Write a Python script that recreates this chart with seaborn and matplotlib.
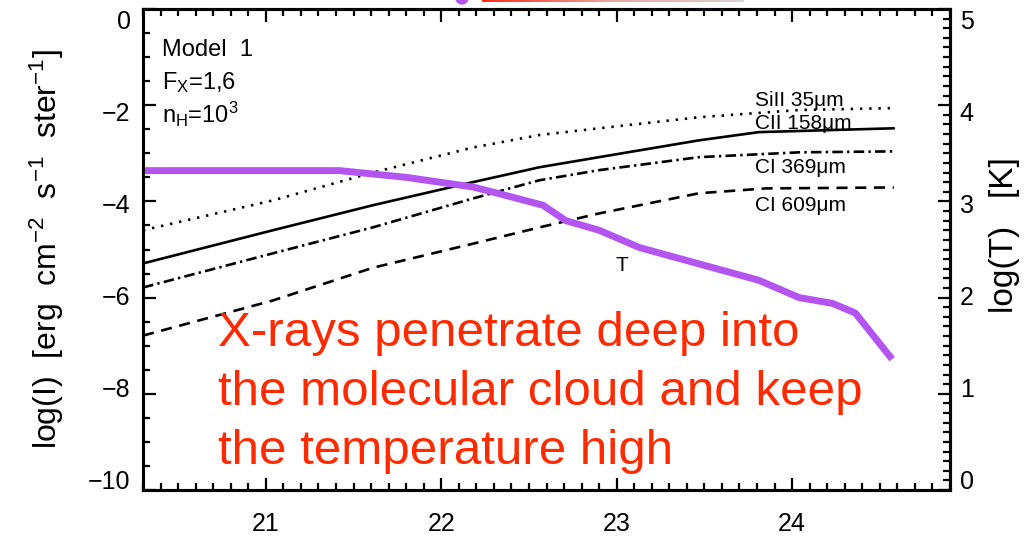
import matplotlib
matplotlib.use("Agg")
import matplotlib.pyplot as plt
import numpy as np
import pandas as pd
import seaborn as sns
from matplotlib.ticker import MultipleLocator
from matplotlib.patches import Ellipse
from matplotlib.colors import LinearSegmentedColormap
from matplotlib.transforms import ScaledTranslation

# log N(H) [cm^-2] and line intensities log(I) for Model 1
sii_nh = [20.30, 21.04, 21.61, 22.18, 22.56, 22.90, 23.47, 24.04, 24.58]
sii_logi = [-4.60, -3.98, -3.40, -2.88, -2.62, -2.48, -2.25, -2.10, -2.06]

cii_nh = [20.30, 21.04, 21.61, 22.18, 22.56, 22.90, 23.47, 23.81, 24.58]
cii_logi = [-5.29, -4.60, -4.08, -3.60, -3.29, -3.08, -2.73, -2.56, -2.48]

ci369_nh = [20.30, 21.04, 21.61, 22.18, 22.56, 22.90, 23.47, 24.04, 24.58]
ci369_logi = [-5.79, -5.08, -4.54, -3.94, -3.56, -3.35, -3.08, -2.98, -2.96]

ci609_nh = [20.30, 21.04, 21.61, 22.18, 22.56, 22.90, 23.47, 23.85, 24.58]
ci609_logi = [-6.79, -6.06, -5.38, -4.88, -4.54, -4.25, -3.83, -3.73, -3.71]

# gas temperature log(T) [K]
temp_nh = [20.30, 21.42, 21.80, 22.18, 22.33, 22.58, 22.71, 22.90, 23.13,
           23.47, 23.81, 24.04, 24.23, 24.36, 24.57]
temp_logt = [3.32, 3.32, 3.25, 3.15, 3.08, 2.96, 2.80, 2.70, 2.52,
             2.35, 2.18, 2.00, 1.94, 1.84, 1.36]

line_names = ["SiII 35μm", "CII 158μm", "CI 369μm", "CI 609μm"]
model_lines = ["Model  1", r"F$_\mathrm{X}$=1,6", r"n$_\mathrm{H}$=10$^3$"]
note_lines = ["X-rays penetrate deep into",
              "the molecular cloud and keep",
              "the temperature high"]

frames = []
for name, xs, ys in zip(line_names,
                        [sii_nh, cii_nh, ci369_nh, ci609_nh],
                        [sii_logi, cii_logi, ci369_logi, ci609_logi]):
    frames.append(pd.DataFrame({"nh": xs, "logI": ys, "line": name}))
lines_df = pd.concat(frames, ignore_index=True)

sns.set_style("ticks")
plt.rcParams["font.family"] = ["Liberation Sans", "DejaVu Sans"]
plt.rcParams["mathtext.fontset"] = "custom"
plt.rcParams["mathtext.rm"] = "Liberation Sans"
plt.rcParams["mathtext.it"] = "Liberation Sans:italic"
plt.rcParams["axes.linewidth"] = 2.2
for key in ["text.color", "axes.labelcolor", "axes.edgecolor",
            "xtick.color", "ytick.color"]:
    plt.rcParams[key] = "black"

W, H = 1028, 539
fig = plt.figure(figsize=(W / 100, H / 100), dpi=100)
ax = fig.add_axes([143 / W, 1 - 490 / H, 807 / W, 481 / H])

dash_map = {
    "SiII 35μm": (0.9, 2.6),
    "CII 158μm": "",
    "CI 369μm": (4.0, 1.6, 0.9, 1.6),
    "CI 609μm": (4.2, 2.9),
}
sns.lineplot(data=lines_df, x="nh", y="logI", style="line", dashes=dash_map,
             color="black", linewidth=1.9, estimator=None, legend=False, ax=ax)

ax.set_xlim(20.3, 24.9)
ax.set_ylim(-10, 0)
ax.xaxis.set_major_locator(MultipleLocator(1))
ax.xaxis.set_minor_locator(MultipleLocator(0.1))
ax.yaxis.set_major_locator(MultipleLocator(2))
ax.yaxis.set_minor_locator(MultipleLocator(0.5))
ax.tick_params(which="both", direction="in", top=True, right=False,
               width=1.6, labelsize=18)
ax.tick_params(which="major", length=9)
ax.tick_params(which="minor", length=5)
ax.tick_params(axis="x", pad=16)
ax.tick_params(axis="y", pad=9)
ax.set_xlabel("")
ax.set_ylabel(r"log(I)  [erg  cm$^{-2}$  s$^{-1}$  ster$^{-1}$]",
              fontsize=23, labelpad=16)

for name, ypos in zip(line_names, [-1.90, -2.38, -3.29, -4.08]):
    ax.text(23.79, ypos, name, fontsize=15, va="center", ha="left")
ax.text(23.03, -5.33, "T", fontsize=15, va="center", ha="center")

for txt, yf in zip(model_lines, [0.915, 0.848, 0.780]):
    ax.text(0.024, yf, txt, transform=ax.transAxes, fontsize=17,
            va="center", ha="left")

ax2 = ax.twinx()
sns.lineplot(x=temp_nh, y=temp_logt, color="#b455f2", linewidth=5,
             ax=ax2, solid_joinstyle="round", solid_capstyle="butt")
ax2.set_ylim(0, 5)
ax2.yaxis.set_major_locator(MultipleLocator(1))
ax2.yaxis.set_minor_locator(MultipleLocator(0.1))
ax2.tick_params(which="both", direction="in", width=1.6, labelsize=18, pad=7)
ax2.tick_params(which="major", length=9)
ax2.tick_params(which="minor", length=5)
ax2.set_ylabel("log(T)   [K]", fontsize=24, labelpad=8)
ax2.yaxis.set_label_coords(1.048, 0.53)
for sp in ax2.spines.values():
    sp.set_linewidth(2.2)

for txt, ypix in zip(note_lines, [346, 405, 464]):
    fig.text(218 / W, 1 - ypix / H, txt, fontsize=35.5, color="#ff2a00",
             va="baseline", ha="left")

# remnants of the slide header above the plot
fig.patches.append(Ellipse((462 / W, 1 + 2 / H), 12 / W, 12 / H,
                           transform=fig.transFigure, color="#b455f2"))
bar_ax = fig.add_axes([482 / W, 1 - 2.5 / H, 262 / W, 2.5 / H])
bar_cmap = LinearSegmentedColormap.from_list("hdr", ["#ff2a14", "#e8a8a8", "#d8d4d4"])
bar_ax.imshow(np.linspace(0, 1, 256)[None, :], aspect="auto", cmap=bar_cmap)
bar_ax.set_axis_off()

# y tick labels sit slightly pulled in toward the middle of the frame
fig.canvas.draw()
for axis_obj, (lo, hi) in [(ax.yaxis, (-10, 0)), (ax2.yaxis, (0, 5))]:
    locs = axis_obj.get_majorticklocs()
    for tick, v in zip(axis_obj.get_major_ticks(), locs):
        frac = (v - lo) / (hi - lo)
        t_img = 9 + (1 - frac) * 481
        dy_pt = (t_img - 249.5) * 0.045 * 0.72
        for lab in (tick.label1, tick.label2):
            lab.set_transform(lab.get_transform()
                              + ScaledTranslation(0, dy_pt / 72, fig.dpi_scale_trans))

fig.savefig("out.png", dpi=100)
